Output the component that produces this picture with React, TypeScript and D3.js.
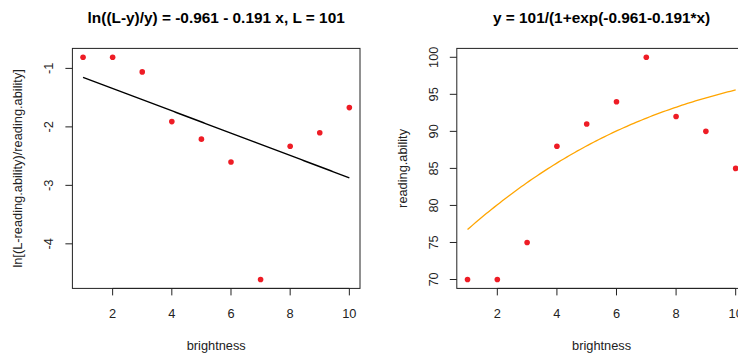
import React from "react";
import * as d3 from "d3";

const brightness = [1, 2, 3, 4, 5, 6, 7, 8, 9, 10];
const readingAbility = [70, 70, 75, 88, 91, 94, 100, 92, 90, 85];
const logitValues = [-0.81, -0.81, -1.06, -1.91, -2.21, -2.6, -4.61, -2.33, -2.1, -1.67];
const L = 101;
const intercept = -0.961;
const slope = -0.191;
const xTicks = [2, 4, 6, 8, 10];
const leftYTicks = [-1, -2, -3, -4];
const rightYTicks = [70, 75, 80, 85, 90, 95, 100];
const leftTitle = "ln((L-y)/y) = -0.961 - 0.191 x, L = 101";
const rightTitle = "y = 101/(1+exp(-0.961-0.191*x)";

const FONT = "'Liberation Sans', Arial, sans-serif";
const TXT = "#222";
const FS = 12.8;

function pad(ext: [number, number]): [number, number] {
  const r = ext[1] - ext[0];
  return [ext[0] - 0.04 * r, ext[1] + 0.04 * r];
}

type PanelProps = {
  left: number;
  right: number;
  top: number;
  bottom: number;
  ys: number[];
  yTicks: number[];
  yLabel: string;
  title: string;
  fit: (x: number) => number;
  fitColor: string;
  fitWidth: number;
};

function Panel(p: PanelProps) {
  const x = d3.scaleLinear().domain(pad(d3.extent(brightness) as [number, number])).range([p.left, p.right]);
  const y = d3.scaleLinear().domain(pad(d3.extent(p.ys) as [number, number])).range([p.bottom, p.top]);
  const xs = d3.range(0, 101).map((i) => 1 + (9 * i) / 100);
  const line = d3
    .line<number>()
    .x((d) => x(d))
    .y((d) => y(p.fit(d)));
  const cx = (p.left + p.right) / 2;
  const cy = (p.top + p.bottom) / 2;
  const tick = 7;
  return (
    <g fontFamily={FONT}>
      <text x={cx} y={23} textAnchor="middle" fontWeight="bold" fontSize={15.4} fill="#000">
        {p.title}
      </text>
      <rect x={p.left} y={p.top} width={p.right - p.left} height={p.bottom - p.top} fill="none" stroke="#222" strokeWidth={1} />
      <line x1={x(xTicks[0])} x2={x(xTicks[xTicks.length - 1])} y1={p.bottom} y2={p.bottom} stroke="#222" />
      {xTicks.map((t) => (
        <g key={"x" + t}>
          <line x1={x(t)} x2={x(t)} y1={p.bottom} y2={p.bottom + tick} stroke="#222" />
          <text x={x(t)} y={p.bottom + 29.5} textAnchor="middle" fontSize={FS} fill={TXT}>
            {t}
          </text>
        </g>
      ))}
      <text x={cx} y={p.bottom + 61.5} textAnchor="middle" fontSize={FS} fill={TXT}>
        brightness
      </text>
      {p.yTicks.map((t) => (
        <g key={"y" + t}>
          <line x1={p.left - tick} x2={p.left} y1={y(t)} y2={y(t)} stroke="#222" />
          <text
            transform={`translate(${p.left - 19},${y(t)}) rotate(-90)`}
            textAnchor="middle"
            fontSize={FS}
            fill={TXT}
          >
            {t}
          </text>
        </g>
      ))}
      <text
        transform={`translate(${p.left - 50},${cy}) rotate(-90)`}
        textAnchor="middle"
        fontSize={FS}
        fill={TXT}
      >
        {p.yLabel}
      </text>
      <path d={line(xs) || ""} fill="none" stroke={p.fitColor} strokeWidth={p.fitWidth} />
      {brightness.map((b, i) => (
        <circle key={i} cx={x(b)} cy={y(p.ys[i])} r={2.8} fill="#EE1C25" />
      ))}
    </g>
  );
}

export default function App() {
  return (
    <svg width={738} height={354} style={{ position: "absolute", left: 0, top: 0, background: "#fff" }}>
      <rect x={0} y={0} width={738} height={354} fill="#fff" />
      <Panel
        left={72.4}
        right={360}
        top={48.4}
        bottom={288.4}
        ys={logitValues}
        yTicks={leftYTicks}
        yLabel="ln[(L-reading.ability)/reading.ability]"
        title={leftTitle}
        fit={(v) => intercept + slope * v}
        fitColor="#000"
        fitWidth={1.4}
      />
      <Panel
        left={456.8}
        right={746.4}
        top={48.4}
        bottom={288.4}
        ys={readingAbility}
        yTicks={rightYTicks}
        yLabel="reading.ability"
        title={rightTitle}
        fit={(v) => L / (1 + Math.exp(intercept + slope * v))}
        fitColor="#FFA500"
        fitWidth={1.3}
      />
    </svg>
  );
}
